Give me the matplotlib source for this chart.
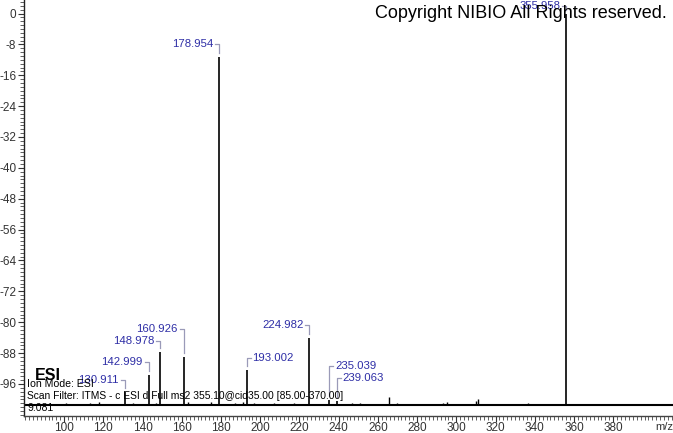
import matplotlib
matplotlib.use("Agg")
import matplotlib.pyplot as plt
from matplotlib.ticker import MultipleLocator, FixedLocator
import numpy as np

plt.rcParams['font.family'] = ['Liberation Sans', 'DejaVu Sans']

# ---- data (m/z, height above baseline in axis units) ----
baseline = -101.4
labeled_mz = [130.911, 142.999, 148.978, 160.926, 178.954, 193.002,
              224.982, 235.039, 239.063, 355.958]
labeled_h = [3.4, 7.8, 13.6, 12.3, 90.0, 9.1, 17.4, 1.3, 1.0, 101.4]
labeled_text = ["130.911", "142.999", "148.978", "160.926", "178.954",
                "193.002", "224.982", "235.039", "239.063", "355.958"]

minor_mz = [101.0, 113.0, 118.0, 125.0, 135.0, 147.0, 163.0, 175.0, 187.0,
            191.0, 197.0, 207.0, 217.0, 247.0, 251.0, 265.6, 269.6, 293.0,
            295.4, 309.8, 311.2, 336.6]
minor_h = [0.4, 0.4, 0.6, 0.3, 0.4, 0.5, 0.6, 0.8, 0.5, 0.6, 0.4, 0.5, 0.4,
           0.4, 0.4, 1.9, 0.4, 0.4, 0.7, 0.9, 1.4, 0.5]

ytick_vals = list(range(0, -97, -8))
xtick_vals = list(range(100, 381, 20))

# label layout: side, vertical offset (px) above peak top
label_side = ['L', 'L', 'L', 'L', 'L', 'R', 'L', 'R', 'R', 'L']
label_dy = [12, 12.3, 11, 28.7, 13.7, 12, 12.7, 34, 23, 7.5]

W, H = 673, 433
fig = plt.figure(figsize=(W / 100, H / 100), dpi=100)
ax = fig.add_axes([24 / W, 17 / H, 1 - 24 / W, 1 - 17 / H])
ax.set_xlim(79.5, 410.5)
ax.set_ylim(-104.3, 3.5)

for s in ['top', 'right']:
    ax.spines[s].set_visible(False)
ax.spines['left'].set_color('#222222')
ax.spines['bottom'].set_color('#444444')
ax.spines['left'].set_linewidth(1.0)
ax.spines['bottom'].set_linewidth(1.0)

ax.yaxis.set_major_locator(FixedLocator(ytick_vals))
ax.set_yticklabels([str(v) for v in ytick_vals])
ax.yaxis.set_minor_locator(MultipleLocator(1))
ax.xaxis.set_major_locator(FixedLocator(xtick_vals))
ax.set_xticklabels([str(v) for v in xtick_vals])
ax.xaxis.set_minor_locator(MultipleLocator(2))
ax.tick_params(axis='both', which='major', length=4.5, width=0.8,
               labelsize=8.5, colors='#333333', direction='out', pad=1)
ax.tick_params(axis='both', which='minor', length=3, width=0.6,
               colors='#444444', direction='out')
ax.tick_params(axis='x', which='major', pad=0)

# baseline
ax.axhline(baseline, color='black', lw=1.5, zorder=2)

# peaks
ax.vlines(minor_mz, baseline, [baseline + h for h in minor_h],
          color='black', lw=1.0, zorder=3)
ax.vlines(labeled_mz, baseline, [baseline + h for h in labeled_h],
          color='black', lw=1.2, zorder=3)


def off(x, y, dx, dy):
    p = ax.transData.transform((x, y)) + np.array([dx, dy])
    return ax.transData.inverted().transform(p)


label_color = '#2e2ea6'
bracket_color = '#9a9ab8'
for mz, h, txt, side, dy in zip(labeled_mz, labeled_h, labeled_text,
                                label_side, label_dy):
    top = baseline + h
    sgn = -1 if side == 'L' else 1
    p0 = off(mz, top, 0, 4)
    p1 = off(mz, top, 0, dy)
    p2 = off(mz, top, sgn * 4, dy)
    ax.plot([p0[0], p1[0], p2[0]], [p0[1], p1[1], p2[1]],
            color=bracket_color, lw=0.9, zorder=4)
    pt = off(mz, top, sgn * 6, dy)
    ax.text(pt[0], pt[1], txt, color=label_color, fontsize=8.2,
            ha='right' if side == 'L' else 'left', va='center', zorder=5)

# header / info texts
fig.text(667 / W, 1 - 14 / H, "Copyright NIBIO All Rights reserved.",
         ha='right', va='center', fontsize=13, color='black', zorder=10)
fig.text(35 / W, 1 - 375 / H, "ESI", ha='left', va='center',
         fontsize=11.5, fontweight='bold', color='black')
fig.text(27 / W, 1 - 384 / H, "Ion Mode: ESI", ha='left', va='center',
         fontsize=7.6, color='black')
fig.text(27 / W, 1 - 396 / H,
         "Scan Filter: ITMS - c ESI d Full ms2 355.10@cid35.00 [85.00-370.00]",
         ha='left', va='center', fontsize=7.4, color='black')
fig.text(27 / W, 1 - 408 / H, "9.081", ha='left', va='center',
         fontsize=7.6, color='black')
fig.text(664 / W, 1 - 427 / H, "m/z", ha='center', va='center',
         fontsize=8, color='#333333')

fig.savefig("out.png", dpi=100)
